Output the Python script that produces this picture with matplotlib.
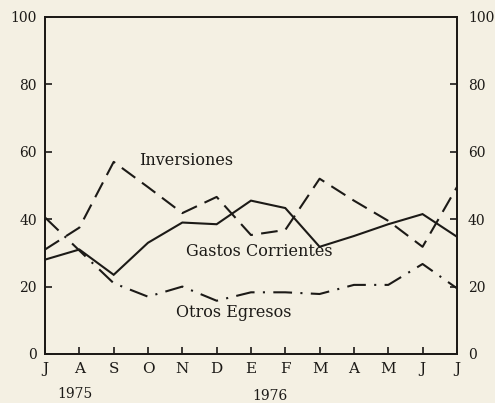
import matplotlib.pyplot as plt
import numpy as np

months = ["J", "A", "S", "O", "N", "D", "E", "F", "M", "A", "M", "J", "J"]
gastos = [28, 31, 23.5, 33, 39, 38.5, 45.5, 43.3, 31.8, 35, 38.5, 41.5, 34.8]
inversiones = [31, 37.5, 57, 49.5, 41.8, 46.6, 35.3, 36.8, 52, 45.5, 39.5, 31.8, 49.5]
otros = [40.5, 30.7, 21, 17, 20, 15.8, 18.3, 18.3, 17.8, 20.5, 20.5, 26.7, 19.5]
yticks = [0, 20, 40, 60, 80, 100]

paper = "#f4f0e3"
ink = "#1c1a17"
serif = ["DejaVu Serif"]

x = np.arange(len(months))

fig = plt.figure(figsize=(4.95, 4.03), dpi=100, facecolor=paper)
ax = fig.add_axes([0.091, 0.1216, 0.832, 0.8364], facecolor=paper)

ax.plot(x, gastos, color=ink, lw=1.5, solid_joinstyle="miter")
ax.plot(x, inversiones, color=ink, lw=1.5, linestyle=(0, (8, 4)))
ax.plot(x, otros, color=ink, lw=1.5, linestyle=(0, (9, 4, 1, 4)))

ax.set_xlim(0, len(months) - 1)
ax.set_ylim(0, 100)
ax.set_xticks(x)
ax.set_xticklabels(months, fontfamily=serif, fontsize=11)
ax.set_yticks(yticks)
ax.set_yticklabels([str(v) for v in yticks], fontfamily=serif, fontsize=10)
ax.tick_params(axis="both", direction="in", length=5, width=1.2, colors=ink)
ax.tick_params(axis="x", pad=6)
ax.tick_params(axis="y", pad=6)

# same scale on the right side
ax2 = ax.twinx()
ax2.set_ylim(0, 100)
ax2.set_yticks(yticks)
ax2.set_yticklabels([str(v) for v in yticks], fontfamily=serif, fontsize=10)
ax2.tick_params(axis="y", direction="in", length=5, width=1.2, colors=ink, pad=8)

for a in (ax, ax2):
    for s in a.spines.values():
        s.set_linewidth(1.3)
        s.set_color(ink)

ax.text(4.1, 57.5, "Inversiones", fontfamily=serif, fontsize=11.5, color=ink,
        va="center", ha="center")
ax.text(6.23, 30.3, "Gastos Corrientes", fontfamily=serif, fontsize=11.5,
        color=ink, va="center", ha="center")
ax.text(5.5, 12.2, "Otros Egresos", fontfamily=serif, fontsize=11.5, color=ink,
        va="center", ha="center")

fig.text(75 / 495, 1 - 394 / 403, "1975", fontfamily=serif, fontsize=10,
         color=ink, ha="center", va="center")
fig.text(270 / 495, 1 - 396 / 403, "1976", fontfamily=serif, fontsize=10,
         color=ink, ha="center", va="center")

fig.savefig("out.png", dpi=100, facecolor=paper)
